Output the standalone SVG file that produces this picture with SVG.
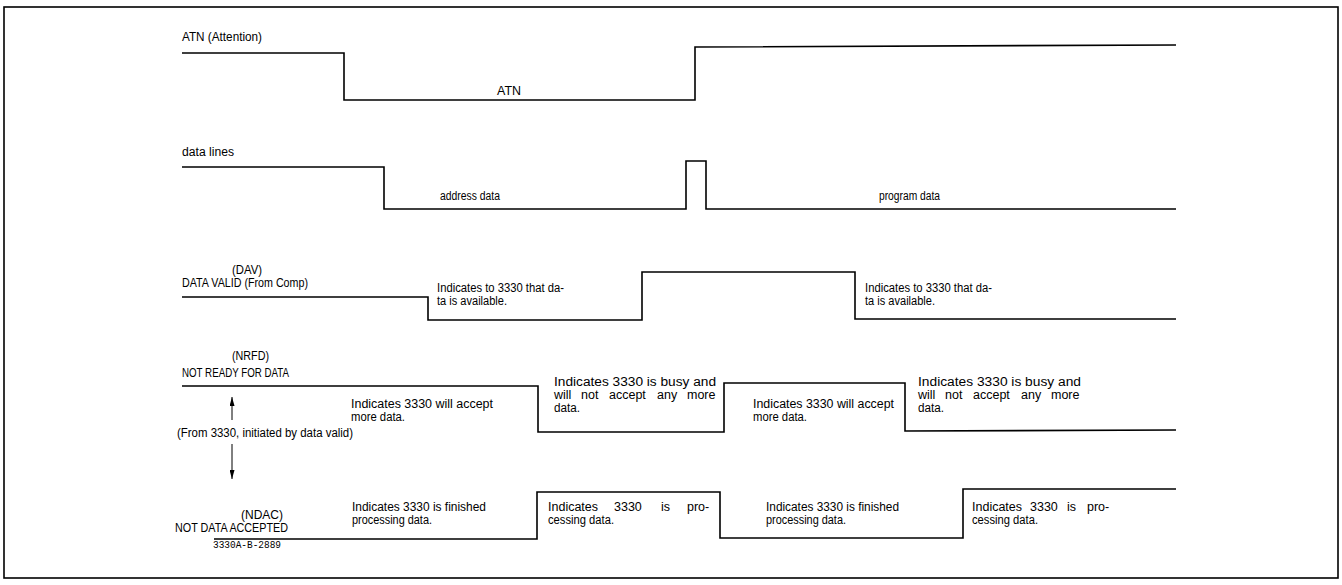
<svg xmlns="http://www.w3.org/2000/svg" width="1342" height="585" viewBox="0 0 1342 585">
<defs>
<style>
.t{font-family:"Liberation Sans",Arial,sans-serif;font-size:13px;fill:#000}
.s{font-family:"Liberation Sans",Arial,sans-serif;font-size:12.5px;fill:#000}
.d{font-family:"Liberation Sans",Arial,sans-serif;font-size:12px;fill:#000}
.m{font-family:"Liberation Mono","Courier New",monospace;font-size:10.5px;fill:#000}
.w{fill:none;stroke:#000;stroke-width:1.6;stroke-linejoin:miter}
.a{fill:none;stroke:#000;stroke-width:1}
</style>
<marker id="ah" viewBox="0 0 9 5" refX="9" refY="2.5" markerWidth="9" markerHeight="5" orient="auto" markerUnits="userSpaceOnUse">
<path d="M0,0 L9,2.5 L0,5 Z" fill="#000"/>
</marker>
</defs>
<rect width="1342" height="585" fill="#fff"/>
<rect x="4" y="7" width="1334" height="571" fill="none" stroke="#000" stroke-width="1.6"/>

<g id="atn">
<text class="d" x="182" y="41" textLength="80" lengthAdjust="spacingAndGlyphs">ATN (Attention)</text>
<polyline class="w" points="182,53 344,53 344,100 695,100 695,47 1176,45"/>
<text class="d" x="497" y="95" textLength="24" lengthAdjust="spacingAndGlyphs">ATN</text>
</g>

<g id="data-lines">
<text class="d" x="182" y="156" textLength="52" lengthAdjust="spacingAndGlyphs">data lines</text>
<polyline class="w" points="182,167 384,167 384,209 686,209 686,161 706,161 706,209 1176,209"/>
<text class="d" x="440" y="200" textLength="60" lengthAdjust="spacingAndGlyphs">address data</text>
<text class="d" x="879" y="200" textLength="61" lengthAdjust="spacingAndGlyphs">program data</text>
</g>

<g id="dav">
<text class="t" x="232" y="274" textLength="30" lengthAdjust="spacingAndGlyphs">(DAV)</text>
<text class="t" x="182" y="287" textLength="126" lengthAdjust="spacingAndGlyphs">DATA VALID (From Comp)</text>
<polyline class="w" points="182,297 428,297 428,320 642,320 642,272 855,272 855,319 1176,319"/>
<text class="s" x="437" y="292" textLength="127" lengthAdjust="spacingAndGlyphs">Indicates to 3330 that da-</text>
<text class="s" x="437" y="305" textLength="70" lengthAdjust="spacingAndGlyphs">ta is available.</text>
<text class="s" x="865" y="292" textLength="127" lengthAdjust="spacingAndGlyphs">Indicates to 3330 that da-</text>
<text class="s" x="865" y="305" textLength="70" lengthAdjust="spacingAndGlyphs">ta is available.</text>
</g>

<g id="nrfd">
<text class="t" x="232" y="360" textLength="37" lengthAdjust="spacingAndGlyphs">(NRFD)</text>
<text class="t" x="182" y="377" textLength="107" lengthAdjust="spacingAndGlyphs">NOT READY FOR DATA</text>
<polyline class="w" points="182,386 538,386 538,432 724,432 724,383 905,383 905,431 1176,430"/>
<text class="s" x="351" y="408" textLength="142" lengthAdjust="spacingAndGlyphs">Indicates 3330 will accept</text>
<text class="s" x="351" y="421" textLength="54" lengthAdjust="spacingAndGlyphs">more data.</text>
<text class="s" x="554" y="386" textLength="162" lengthAdjust="spacingAndGlyphs">Indicates 3330 is busy and</text>
<text class="s" y="399"><tspan x="554">will</tspan><tspan x="581">not</tspan><tspan x="609">accept</tspan><tspan x="657">any</tspan><tspan x="687">more</tspan></text>
<text class="s" x="554" y="412" textLength="26" lengthAdjust="spacingAndGlyphs">data.</text>
<text class="s" x="753" y="408" textLength="141" lengthAdjust="spacingAndGlyphs">Indicates 3330 will accept</text>
<text class="s" x="753" y="421" textLength="54" lengthAdjust="spacingAndGlyphs">more data.</text>
<text class="s" x="918" y="386" textLength="163" lengthAdjust="spacingAndGlyphs">Indicates 3330 is busy and</text>
<text class="s" y="399"><tspan x="918">will</tspan><tspan x="945">not</tspan><tspan x="973">accept</tspan><tspan x="1021">any</tspan><tspan x="1051">more</tspan></text>
<text class="s" x="918" y="412" textLength="26" lengthAdjust="spacingAndGlyphs">data.</text>
</g>

<g id="connectors">
<line class="a" x1="232" y1="420" x2="232" y2="397" marker-end="url(#ah)"/>
<line class="a" x1="232" y1="444" x2="232" y2="479" marker-end="url(#ah)"/>
</g>
<text class="s" x="177" y="437" textLength="176" lengthAdjust="spacingAndGlyphs">(From 3330, initiated by data valid)</text>

<g id="ndac">
<text class="t" x="241" y="519" textLength="42" lengthAdjust="spacingAndGlyphs">(NDAC)</text>
<text class="t" x="175" y="532" textLength="113" lengthAdjust="spacingAndGlyphs">NOT DATA ACCEPTED</text>
<text class="m" x="213" y="548" textLength="68" lengthAdjust="spacingAndGlyphs">3330A-B-2889</text>
<polyline class="w" points="214,539 537,539 537,492 720,492 720,538 963,538 963,489 1176,489"/>
<text class="s" x="352" y="511" textLength="134" lengthAdjust="spacingAndGlyphs">Indicates 3330 is finished</text>
<text class="s" x="352" y="524" textLength="80" lengthAdjust="spacingAndGlyphs">processing data.</text>
<text class="s" y="511"><tspan x="548">Indicates</tspan><tspan x="614">3330</tspan><tspan x="661">is</tspan><tspan x="687">pro-</tspan></text>
<text class="s" x="548" y="524" textLength="66" lengthAdjust="spacingAndGlyphs">cessing data.</text>
<text class="s" x="766" y="511" textLength="133" lengthAdjust="spacingAndGlyphs">Indicates 3330 is finished</text>
<text class="s" x="766" y="524" textLength="80" lengthAdjust="spacingAndGlyphs">processing data.</text>
<text class="s" y="511"><tspan x="972">Indicates</tspan><tspan x="1030">3330</tspan><tspan x="1067">is</tspan><tspan x="1087">pro-</tspan></text>
<text class="s" x="972" y="524" textLength="66" lengthAdjust="spacingAndGlyphs">cessing data.</text>
</g>
</svg>
